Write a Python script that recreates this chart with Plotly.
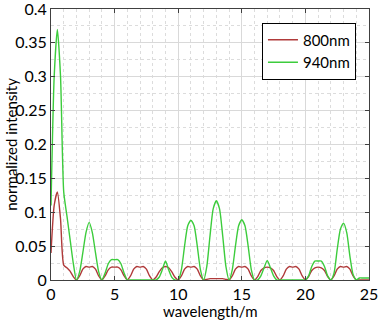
import plotly.graph_objects as go

x = [i * 0.25 for i in range(101)]

green_940 = [
    0.11, 0.30, 0.37, 0.30, 0.13, 0.095, 0.06, 0.025,   # 0 - 1.75
    0.0, 0.012, 0.04, 0.07, 0.085, 0.07, 0.04, 0.012,   # 2 - 3.75
    0.0, 0.01, 0.024, 0.03, 0.03, 0.03, 0.024, 0.01,    # 4 - 5.75
    0.0, 0.0, 0.0, 0.0, 0.0, 0.0, 0.0, 0.0,             # 6 - 7.75
    0.0, 0.0, 0.004, 0.015, 0.028, 0.015, 0.004, 0.0,   # 8 - 9.75
    0.0, 0.015, 0.05, 0.08, 0.088, 0.08, 0.05, 0.015,   # 10 - 11.75
    0.0, 0.02, 0.065, 0.105, 0.117, 0.105, 0.065, 0.02, # 12 - 13.75
    0.0, 0.015, 0.05, 0.08, 0.089, 0.08, 0.05, 0.015,   # 14 - 15.75
    0.0, 0.0, 0.006, 0.018, 0.029, 0.018, 0.006, 0.0,   # 16 - 17.75
    0.0, 0.0, 0.0, 0.0, 0.0, 0.0, 0.0, 0.0,             # 18 - 19.75
    0.0, 0.006, 0.02, 0.028, 0.028, 0.028, 0.02, 0.006, # 20 - 21.75
    0.0, 0.01, 0.045, 0.075, 0.084, 0.07, 0.035, 0.008, # 22 - 23.75
    0.0, 0.003, 0.003, 0.003, 0.003,                    # 24 - 25
]

red_800 = [
    0.04, 0.11, 0.13, 0.09, 0.022, 0.018, 0.013, 0.005,     # 0 - 1.75
    0.0, 0.006, 0.016, 0.02, 0.019, 0.02, 0.016, 0.006,     # 2 - 3.75
    0.0, 0.006, 0.015, 0.019, 0.019, 0.019, 0.015, 0.006,   # 4 - 5.75
    0.0, 0.006, 0.016, 0.02, 0.019, 0.02, 0.016, 0.006,     # 6 - 7.75
    0.0, 0.004, 0.012, 0.018, 0.02, 0.018, 0.012, 0.004,    # 8 - 9.75
    0.0, 0.006, 0.016, 0.02, 0.019, 0.02, 0.016, 0.006,     # 10 - 11.75
    0.0, 0.001, 0.002, 0.002, 0.002, 0.002, 0.002, 0.001,   # 12 - 13.75
    0.0, 0.006, 0.016, 0.02, 0.019, 0.02, 0.016, 0.006,     # 14 - 15.75
    0.0, 0.005, 0.014, 0.018, 0.019, 0.018, 0.014, 0.005,   # 16 - 17.75
    0.0, 0.006, 0.016, 0.02, 0.019, 0.02, 0.016, 0.006,     # 18 - 19.75
    0.0, 0.005, 0.014, 0.018, 0.019, 0.018, 0.014, 0.005,   # 20 - 21.75
    0.0, 0.006, 0.016, 0.02, 0.019, 0.02, 0.016, 0.006,     # 22 - 23.75
    0.0, 0.0, 0.0, 0.0, 0.0,                                # 24 - 25
]

series_names = ["800nm", "940nm"]
series_colors = ["#b03a3a", "#3ccc3c"]

x_ticks = [0, 5, 10, 15, 20, 25]
y_ticks = [0, 0.05, 0.1, 0.15, 0.2, 0.25, 0.3, 0.35, 0.4]
x_title = "wavelength/m"
y_title = "normalized intensity"

font_family = "Lato, 'Open Sans', sans-serif"
fs = 16
fs_title = 15

fig = go.Figure()
for name, ys, col in zip(series_names, [red_800, green_940], series_colors):
    fig.add_trace(go.Scatter(x=x, y=ys, mode="lines", name=name,
                             line=dict(color=col, width=1.4, shape="spline", smoothing=0.6)))

axis_common = dict(
    showline=True, linecolor="#404040", linewidth=1, mirror="ticks",
    ticks="inside", ticklen=4, tickcolor="#404040",
    showgrid=True, gridcolor="#d9d9d9", gridwidth=1,
    zeroline=False, automargin=False, ticklabeloverflow="allow",
    tickfont=dict(size=fs, color="black", family=font_family),
)

fig.update_xaxes(
    range=[0, 25], tickvals=x_ticks,
    minor=dict(dtick=1, showgrid=True, gridcolor="#dcdcdc", griddash="dot", ticks=""),
    **axis_common,
)
fig.update_yaxes(
    range=[0, 0.4], tickvals=y_ticks,
    minor=dict(dtick=0.025, showgrid=True, gridcolor="#dcdcdc", griddash="dot", ticks=""),
    **axis_common,
)

fig.add_annotation(text=x_title, xref="paper", yref="paper", x=0.5, y=-0.116,
                   xanchor="center", yanchor="middle", showarrow=False,
                   font=dict(size=fs_title, color="black", family=font_family))
fig.add_annotation(text=y_title, xref="paper", yref="paper", x=-0.128, y=0.5,
                   xanchor="center", yanchor="middle", showarrow=False, textangle=-90,
                   font=dict(size=fs_title, color="black", family=font_family))

fig.update_layout(
    width=378, height=320,
    margin=dict(l=51, r=9, t=9, b=40),
    paper_bgcolor="white", plot_bgcolor="white",
    font=dict(family=font_family, size=fs, color="black"),
    legend=dict(x=0.959, y=0.95, xanchor="right", yanchor="top",
                bgcolor="white", bordercolor="black", borderwidth=1,
                font=dict(size=15, color="black", family=font_family),
                tracegroupgap=0, itemwidth=30),
    showlegend=True,
)

fig.write_html("out.html", config={"displayModeBar": False},
               post_script="document.body.style.margin='0';document.body.style.overflow='hidden';")
